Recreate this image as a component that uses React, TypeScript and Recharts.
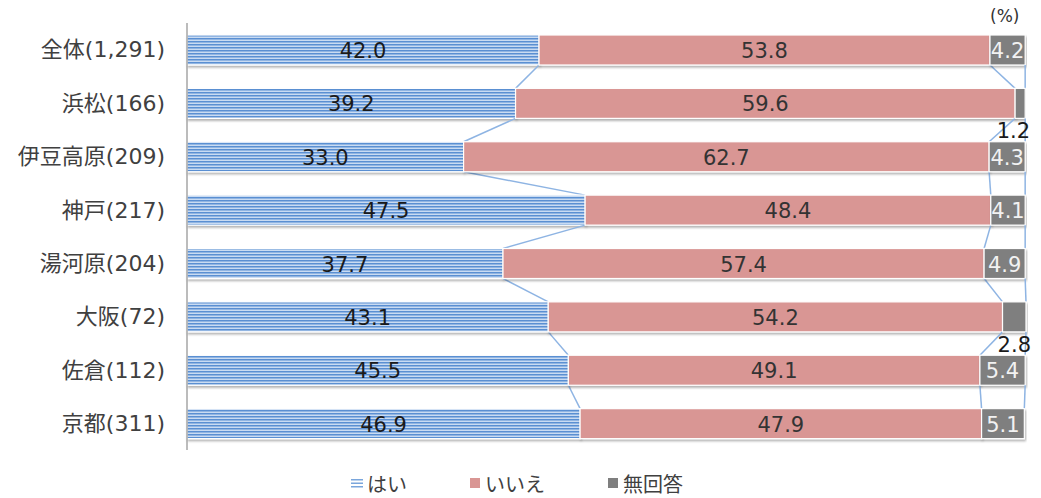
import React from 'react';
import { BarChart, Bar, XAxis, YAxis, Legend, LabelList } from 'recharts';

const CATEGORIES = ['全体(1,291)', '浜松(166)', '伊豆高原(209)', '神戸(217)', '湯河原(204)', '大阪(72)', '佐倉(112)', '京都(311)'];
const YES = [42.0, 39.2, 33.0, 47.5, 37.7, 43.1, 45.5, 46.9];
const NO = [53.8, 59.6, 62.7, 48.4, 57.4, 54.2, 49.1, 47.9];
const NA = [4.2, 1.2, 4.3, 4.1, 4.9, 2.8, 5.4, 5.1];
const SERIES_NAMES = ['はい', 'いいえ', '無回答'];

const FONT = '"DejaVu Sans", "Noto Sans CJK JP", sans-serif';
const CJK_FONT = '"Noto Sans CJK JP", "Noto Sans", sans-serif';
const W = 1025;
const H = 490;
const MARGIN = { top: 15, right: 7, bottom: 18, left: 0 };
const LEGEND_H = 30;
const PLOT_H = H - MARGIN.top - MARGIN.bottom - LEGEND_H;
const STEP = PLOT_H / CATEGORIES.length;

const data = CATEGORIES.map((name, i) => ({ name, yes: YES[i], no: NO[i], na: NA[i] }));
const SERIES = [YES, NO, NA];

const cum = (i: number, k: number) => {
  let s = 0;
  for (let j = 0; j <= k; j++) s += SERIES[j][i];
  return s;
};

const makeShape = (k: number) => (props: any) => {
  const { x, y, width, height, index, fill } = props;
  const v = SERIES[k][index];
  const ppu = width / v;
  const left = x + width - cum(index, k) * ppu;
  let connector = null;
  if (index < CATEGORIES.length - 1) {
    const nextEnd = left + cum(index + 1, k) * ppu;
    connector = (
      <line x1={x + width} y1={y + height} x2={nextEnd} y2={y + STEP} stroke="#8eb4e3" strokeWidth={1.5} />
    );
  }
  return (
    <g>
      <rect x={x} y={y} width={width} height={height} fill={fill} stroke="#ffffff" strokeWidth={1.2} filter="url(#barShadow)" />
      {connector}
    </g>
  );
};

const labelFor = (k: number) => (props: any) => {
  const { x, y, width, height, value } = props;
  const txt = Number(value).toFixed(1);
  if (k === 2 && value < 3) {
    return (
      <text x={x + width + 5} y={y + height + 13} textAnchor="end" dominantBaseline="central" fontSize={21} fill="#1a1a1a" fontFamily={FONT}>
        {txt}
      </text>
    );
  }
  const color = k === 0 ? '#1a1a1a' : k === 1 ? '#333333' : '#f2f2f2';
  return (
    <text x={x + width / 2} y={y + height / 2 + 1} textAnchor="middle" dominantBaseline="central" fontSize={21} fill={color} fontFamily={FONT}>
      {txt}
    </text>
  );
};

const LegendContent = () => (
  <div style={{ display: 'flex', justifyContent: 'center', alignItems: 'center', gap: 62, height: LEGEND_H, fontFamily: CJK_FONT, fontSize: 20, color: '#404040' }}>
    <div style={{ display: 'flex', alignItems: 'center' }}>
      <svg width={12} height={12} style={{ marginRight: 4 }}>
        <rect x={0} y={2} width={12} height={1.5} fill="#7aa6dc" />
        <rect x={0} y={5.5} width={12} height={1.5} fill="#7aa6dc" />
        <rect x={0} y={9} width={12} height={1.5} fill="#7aa6dc" />
      </svg>
      <span>{SERIES_NAMES[0]}</span>
    </div>
    <div style={{ display: 'flex', alignItems: 'center' }}>
      <svg width={12} height={12} style={{ marginRight: 4 }}>
        <rect x={1} y={1} width={10} height={10} fill="#d99694" />
      </svg>
      <span>{SERIES_NAMES[1]}</span>
    </div>
    <div style={{ display: 'flex', alignItems: 'center' }}>
      <svg width={12} height={12} style={{ marginRight: 4 }}>
        <rect x={1} y={1} width={10} height={10} fill="#7f7f7f" />
      </svg>
      <span>{SERIES_NAMES[2]}</span>
    </div>
  </div>
);

export default function App() {
  return (
    <div style={{ position: 'relative', width: W, height: H, fontFamily: FONT }}>
      <span style={{ position: 'absolute', left: 982, top: -2, fontSize: 17, lineHeight: '20px', color: '#333', fontFamily: FONT, zIndex: 2 }}>(%)</span>
      <BarChart width={W} height={H} data={data} layout="vertical" margin={MARGIN} barSize={30}>
        <defs>
          <pattern id="stripes" patternUnits="userSpaceOnUse" width={8} height={3}>
            <rect x={0} y={0} width={8} height={3} fill="#c9dbf2" />
            <rect x={0} y={0} width={8} height={1.5} fill="#5a8fd2" />
          </pattern>
          <filter id="barShadow" x="-5%" y="-20%" width="110%" height="160%">
            <feDropShadow dx={1} dy={2} stdDeviation={1} floodColor="#000" floodOpacity={0.3} />
          </filter>
        </defs>
        <XAxis type="number" domain={[0, 100]} hide />
        <YAxis
          type="category"
          dataKey="name"
          width={179}
          tickLine={false}
          tickSize={0}
          tickMargin={22}
          axisLine={{ stroke: '#a6a6a6', strokeWidth: 1.5 }}
          tick={{ fontSize: 22, fill: '#404040', fontFamily: FONT }}
        />
        <Legend verticalAlign="bottom" height={LEGEND_H} wrapperStyle={{ bottom: 0 }} content={<LegendContent />} />
        <Bar dataKey="yes" name={SERIES_NAMES[0]} stackId="a" fill="url(#stripes)" shape={makeShape(0)} isAnimationActive={false}>
          <LabelList dataKey="yes" content={labelFor(0)} />
        </Bar>
        <Bar dataKey="no" name={SERIES_NAMES[1]} stackId="a" fill="#d99694" shape={makeShape(1)} isAnimationActive={false}>
          <LabelList dataKey="no" content={labelFor(1)} />
        </Bar>
        <Bar dataKey="na" name={SERIES_NAMES[2]} stackId="a" fill="#7f7f7f" shape={makeShape(2)} isAnimationActive={false}>
          <LabelList dataKey="na" content={labelFor(2)} />
        </Bar>
      </BarChart>
    </div>
  );
}
